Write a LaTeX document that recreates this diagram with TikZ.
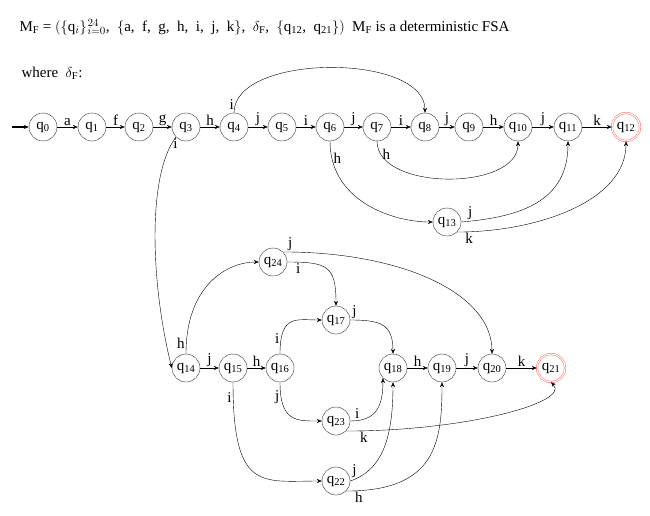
\documentclass[tikz,border=0pt]{standalone}
\usepackage{fontspec}
\setmainfont{Liberation Serif}
\usetikzlibrary{positioning,arrows.meta}
\begin{document}
\begin{tikzpicture}[x=1pt,y=-1pt,->,>={Stealth[length=5pt,width=4pt]},font=\fontsize{15}{15}\selectfont]
    \tikzstyle{st}=[circle, minimum size=28pt, inner sep=0pt, draw=black!80, fill=white]
    \tikzstyle{fin}=[st, draw=red!70, double, double distance=1.2pt]
    \tikzstyle{lb}=[inner sep=1.5pt]
    \useasboundingbox (0,0) rectangle (650,516);
    \node[anchor=west] (title) at (16,27) {M\textsubscript{F} = $\Bigl(\bigl\{\mathrm{q}_{i}\bigr\}\mkern1mu{}_{i=0}^{24}$,\ \ $\bigl\{$a,\ \ f,\ \ g,\ \ h,\ \ i,\ \ j,\ \ k$\bigr\}$,\ \ $\delta_{\mathrm F}$,\ \ $\bigl\{$q\textsubscript{12},\ \ q\textsubscript{21}$\bigr\}\Bigr)$\ \ M\textsubscript{F} is a deterministic FSA};
    \node[anchor=west] (where) at (18,73) {where\ \ $\delta_{\mathrm F}$:};
    % top row
    \foreach \n/\x in {0/43,1/92,2/139,3/186,4/234,5/282,6/330,7/377,8/425,9/469,10/518,11/568} {
        \node[st] (q\n) at (\x,127) {q\textsubscript{\n}};
    }
    \node[fin] (q12) at (626,127) {q\textsubscript{12}};
    \node[st] (q13) at (447,222) {q\textsubscript{13}};
    % bottom part
    \foreach \n/\x/\y in {14/186/368,15/233/368,16/280/368,18/393/368,19/442/368,20/492/368,
                          24/273/262,17/336/320,23/336/421,22/336/481} {
        \node[st] (q\n) at (\x,\y) {q\textsubscript{\n}};
    }
    \node[fin] (q21) at (551,368) {q\textsubscript{21}};
    \coordinate (start) at (12,127);
    \draw[line width=1.5pt] (start) -- (q0);
    \foreach \a/\b/\l in {0/1/a,1/2/f,2/3/g,3/4/h,4/5/j,5/6/i,6/7/j,7/8/i,8/9/j,9/10/h,10/11/j,11/12/k,
                          14/15/j,15/16/h,18/19/h,19/20/j,20/21/k} {
        \path (q\a) edge node[lb,above] {\l} (q\b);
    }
    % curved transitions
    \draw (q4.north) .. controls +(0,-60) and +(0,-60) .. node[pos=0.05,left,lb] {i} (q8.north);
    \draw (q3.south west) .. controls +(-30,40) and +(-20,-80) .. node[pos=0.05,right,lb] {i} (q14.west);
    \draw (q6.south) .. controls +(0,60) and +(-40,0) .. node[pos=0.1,right,lb] {h} (q13.west);
    \draw (q7.south) .. controls +(0,50) and +(0,50) .. node[pos=0.1,right,lb] {h} (q10.south);
    \draw (q13.east) .. controls +(60,-5) and +(0,60) .. node[pos=0.05,above,lb] {j} (q11.south);
    \draw (q13.south east) .. controls +(80,0) and +(0,60) .. node[pos=0.05,below,lb] {k} (q12.south);
    \draw (q14.north) .. controls +(0,-70) and +(-30,0) .. node[pos=0.05,left,lb] {h} (q24.west);
    \draw (q24.east) .. controls +(40,0) and +(0,-40) .. node[pos=0.1,below,lb] {i} (q17.north);
    \draw (q24.north east) .. controls +(120,0) and +(0,-60) .. node[pos=0.02,above,lb] {j} (q20.north);
    \draw (q16.north) .. controls +(0,-40) and +(-25,0) .. node[pos=0.15,left,lb] {i} (q17.west);
    \draw (q16.south) .. controls +(0,40) and +(-25,0) .. node[pos=0.15,left,lb] {j} (q23.west);
    \draw (q17.east) .. controls +(30,0) and +(0,-30) .. node[pos=0.05,above,lb] {j} (q18.north);
    \draw (q23.east) .. controls +(25,0) and +(0,30) .. node[pos=0.1,above,lb] {i} (q18.south west);
    \draw (q23.south east) .. controls +(120,0) and +(20,20) .. node[pos=0.05,below,lb] {k} (q21.south);
    \draw (q15.south) .. controls +(0,110) and +(-60,0) .. node[pos=0.05,left,lb] {i} (q22.west);
    \draw (q22.east) .. controls +(30,-10) and +(0,60) .. node[pos=0.05,above,lb] {j} (q18.south);
    \draw (q22.south east) .. controls +(90,0) and +(0,60) .. node[pos=0.05,below,lb] {h} (q19.south);
\end{tikzpicture}
\end{document}
